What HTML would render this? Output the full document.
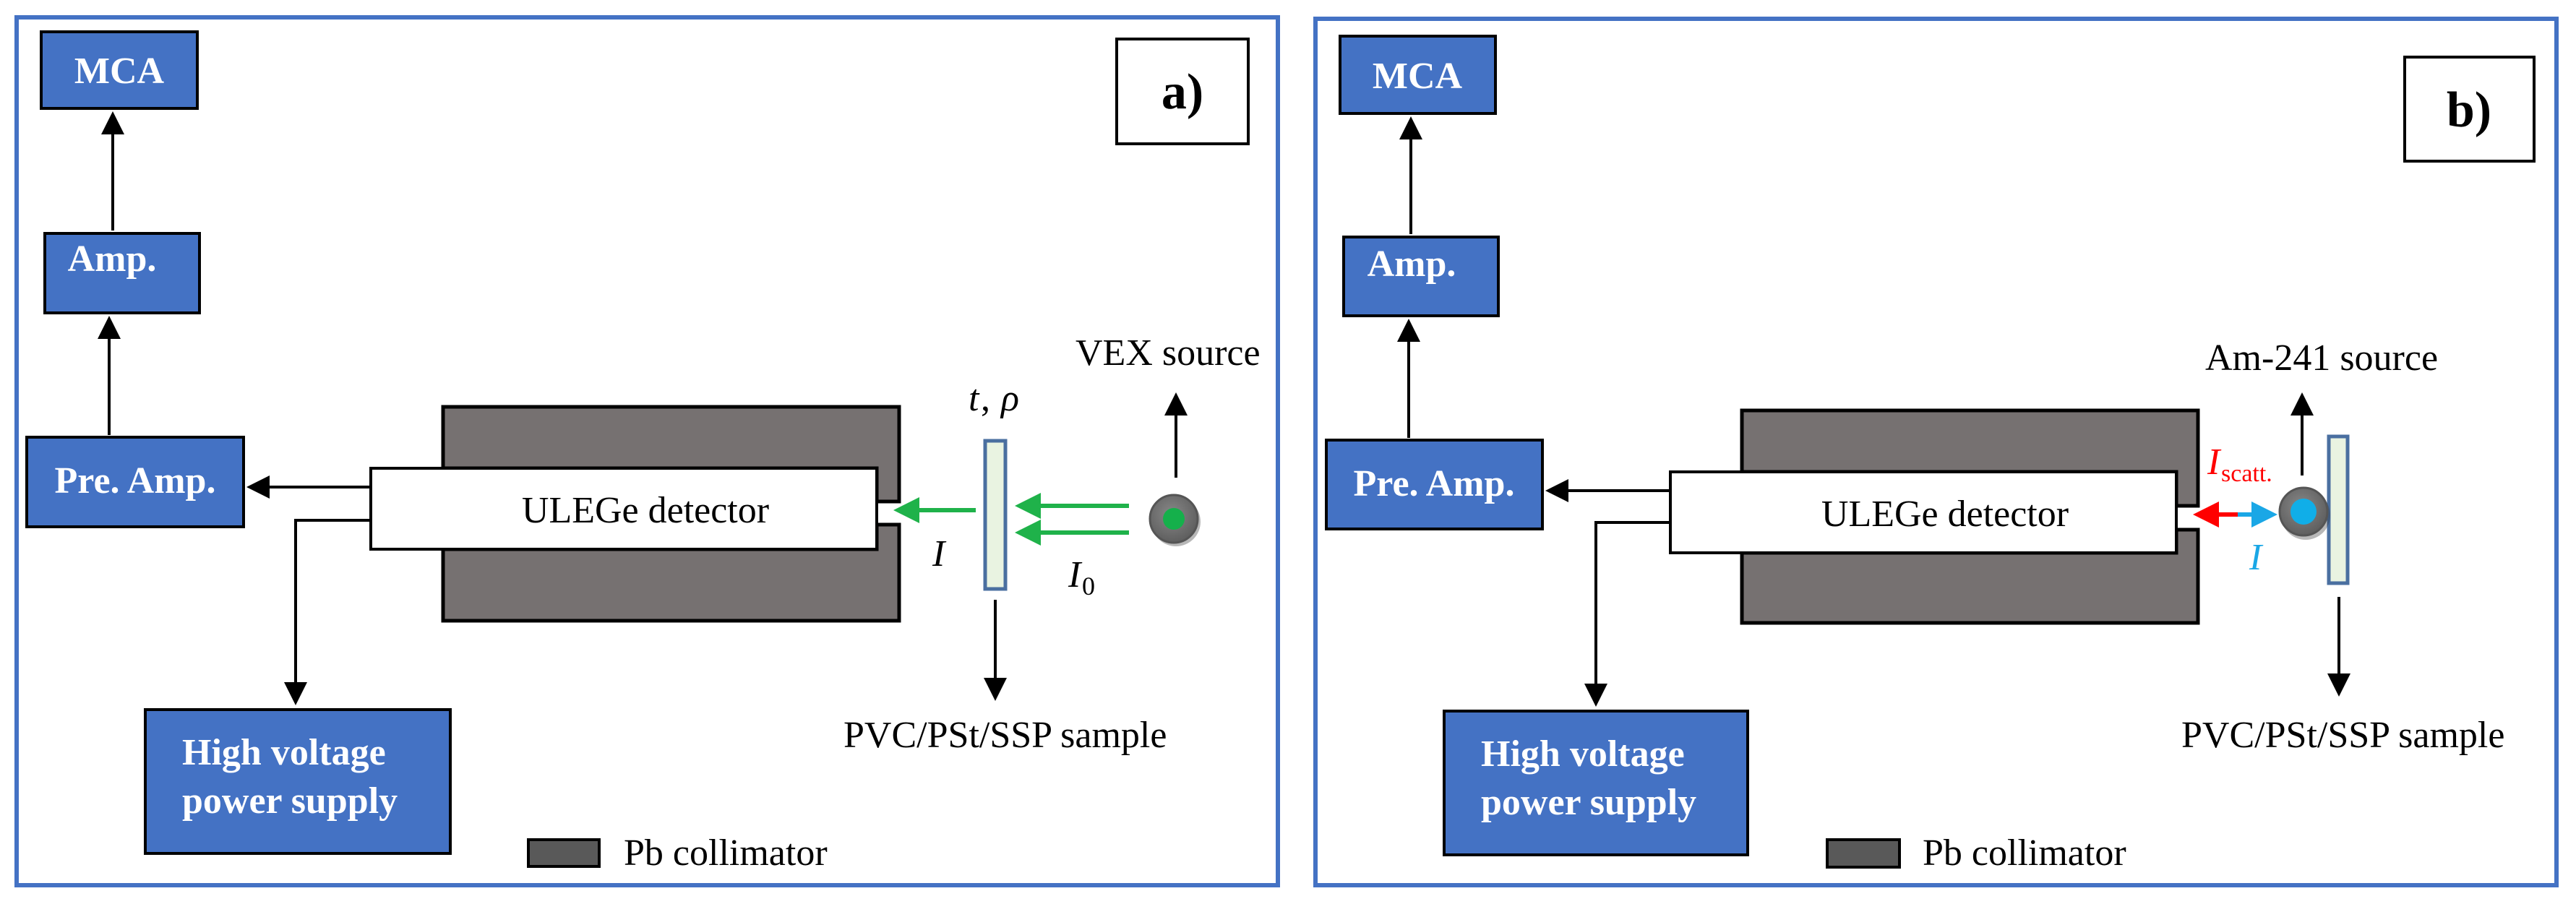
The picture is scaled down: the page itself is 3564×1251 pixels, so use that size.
<!DOCTYPE html>
<html><head><meta charset="utf-8"><style>
html,body{margin:0;padding:0;background:#fff;}
svg{display:block;}
.t{font-family:"Liberation Serif",serif;font-size:52px;fill:#000;}
.b{font-family:"Liberation Serif",serif;font-size:52px;font-weight:bold;fill:#fff;}
</style></head><body>
<svg width="3564" height="1251" viewBox="0 0 3564 1251" xmlns="http://www.w3.org/2000/svg">
<defs>
<marker id="ak" markerWidth="8" markerHeight="8" refX="7" refY="4" orient="auto" markerUnits="strokeWidth"><path d="M0,0 L8,4 L0,8 z" fill="#000"/></marker>
<marker id="ag" markerWidth="6" markerHeight="6" refX="5" refY="3" orient="auto" markerUnits="strokeWidth"><path d="M0,0 L6,3 L0,6 z" fill="#1fb24a"/></marker>
<marker id="ar" markerWidth="6" markerHeight="6" refX="5" refY="3" orient="auto" markerUnits="strokeWidth"><path d="M0,0 L6,3 L0,6 z" fill="#f00"/></marker>
<marker id="ac" markerWidth="6" markerHeight="6" refX="5" refY="3" orient="auto" markerUnits="strokeWidth"><path d="M0,0 L6,3 L0,6 z" fill="#1aa7e6"/></marker>
<radialGradient id="sg" cx="45%" cy="40%" r="60%"><stop offset="0" stop-color="#888"/><stop offset="1" stop-color="#5e5e5e"/></radialGradient>
</defs>

<!-- Panel a -->
<rect x="23" y="24" width="1745" height="1201" fill="none" stroke="#4472c4" stroke-width="6"/>
<rect x="57" y="44" width="216" height="106" fill="#4472c4" stroke="#000" stroke-width="4"/>
<text class="b" x="165" y="115" text-anchor="middle">MCA</text>
<rect x="62" y="323" width="214" height="110" fill="#4472c4" stroke="#000" stroke-width="4"/>
<text class="b" x="155" y="375" text-anchor="middle">Amp.</text>
<rect x="37" y="605" width="300" height="124" fill="#4472c4" stroke="#000" stroke-width="4"/>
<text class="b" x="187" y="682" text-anchor="middle">Pre. Amp.</text>
<rect x="201" y="982" width="422" height="199" fill="#4472c4" stroke="#000" stroke-width="4"/>
<text class="b" x="252" y="1058">High voltage</text>
<text class="b" x="252" y="1125">power supply</text>
<line x1="156" y1="319" x2="156" y2="158" stroke="#000" stroke-width="4" marker-end="url(#ak)"/>
<line x1="151" y1="602" x2="151" y2="441" stroke="#000" stroke-width="4" marker-end="url(#ak)"/>
<path d="M613,563 H1244 V694 H1213 V648 H613 Z" fill="#767171" stroke="#000" stroke-width="5"/>
<path d="M613,859 H1244 V726 H1213 V760 H613 Z" fill="#767171" stroke="#000" stroke-width="5"/>
<rect x="513" y="648" width="700" height="112" fill="#fff" stroke="#000" stroke-width="4"/>
<text class="t" x="893" y="723" text-anchor="middle">ULEGe detector</text>
<line x1="513" y1="674" x2="345" y2="674" stroke="#000" stroke-width="4" marker-end="url(#ak)"/>
<polyline points="513,720 409,720 409,972" fill="none" stroke="#000" stroke-width="4" marker-end="url(#ak)"/>
<rect x="1363" y="610" width="28" height="205" fill="#e9f3e1" stroke="#4a6fa0" stroke-width="5"/>
<text class="t" x="1340" y="568" font-style="italic">t</text><text class="t" x="1357" y="568">, </text><text class="t" x="1385" y="568" font-style="italic">ρ</text>
<line x1="1350" y1="706" x2="1242" y2="706" stroke="#1fb24a" stroke-width="6" marker-end="url(#ag)"/>
<line x1="1562" y1="700" x2="1410" y2="700" stroke="#1fb24a" stroke-width="6" marker-end="url(#ag)"/>
<line x1="1562" y1="737" x2="1410" y2="737" stroke="#1fb24a" stroke-width="6" marker-end="url(#ag)"/>
<circle cx="1627" cy="722" r="34" fill="#333" opacity="0.35"/>
<circle cx="1624" cy="718" r="33" fill="url(#sg)" stroke="#555" stroke-width="3"/>
<circle cx="1624" cy="718" r="15" fill="#15b04b"/>
<line x1="1627" y1="661" x2="1627" y2="547" stroke="#000" stroke-width="4" marker-end="url(#ak)"/>
<text class="t" x="1488" y="505">VEX source</text>
<text class="t" x="1290" y="783" font-style="italic">I</text>
<text class="t" x="1478" y="812" font-style="italic">I</text><text class="t" x="1497" y="823" style="font-size:36px">0</text>
<line x1="1377" y1="830" x2="1377" y2="966" stroke="#000" stroke-width="4" marker-end="url(#ak)"/>
<text class="t" x="1167" y="1034">PVC/PSt/SSP sample</text>
<rect x="731" y="1162" width="98" height="37" fill="#595959" stroke="#000" stroke-width="4"/>
<text class="t" x="863" y="1197">Pb collimator</text>
<rect x="1545" y="54" width="182" height="145" fill="#fff" stroke="#000" stroke-width="4"/>
<text x="1636" y="150" text-anchor="middle" style="font-family:'Liberation Serif',serif;font-weight:bold;font-size:70px">a)</text>

<!-- Panel b -->
<rect x="1820" y="26" width="1717" height="1199" fill="none" stroke="#4472c4" stroke-width="6"/>
<rect x="1854" y="50" width="215" height="107" fill="#4472c4" stroke="#000" stroke-width="4"/>
<text class="b" x="1961" y="122" text-anchor="middle">MCA</text>
<rect x="1859" y="328" width="214" height="109" fill="#4472c4" stroke="#000" stroke-width="4"/>
<text class="b" x="1953" y="382" text-anchor="middle">Amp.</text>
<rect x="1835" y="609" width="299" height="123" fill="#4472c4" stroke="#000" stroke-width="4"/>
<text class="b" x="1984" y="686" text-anchor="middle">Pre. Amp.</text>
<rect x="1998" y="984" width="420" height="199" fill="#4472c4" stroke="#000" stroke-width="4"/>
<text class="b" x="2049" y="1060">High voltage</text>
<text class="b" x="2049" y="1127">power supply</text>
<line x1="1952" y1="324" x2="1952" y2="165" stroke="#000" stroke-width="4" marker-end="url(#ak)"/>
<line x1="1949" y1="606" x2="1949" y2="445" stroke="#000" stroke-width="4" marker-end="url(#ak)"/>
<path d="M2410,568 H3041 V700 H3011 V653 H2410 Z" fill="#767171" stroke="#000" stroke-width="5"/>
<path d="M2410,862 H3041 V733 H3011 V765 H2410 Z" fill="#767171" stroke="#000" stroke-width="5"/>
<rect x="2311" y="653" width="700" height="112" fill="#fff" stroke="#000" stroke-width="4"/>
<text class="t" x="2691" y="728" text-anchor="middle">ULEGe detector</text>
<line x1="2311" y1="679" x2="2142" y2="679" stroke="#000" stroke-width="4" marker-end="url(#ak)"/>
<polyline points="2311,723 2208,723 2208,974" fill="none" stroke="#000" stroke-width="4" marker-end="url(#ak)"/>
<rect x="3222" y="604" width="26" height="203" fill="#e9f3e1" stroke="#4a6fa0" stroke-width="5"/>
<line x1="3185" y1="658" x2="3185" y2="547" stroke="#000" stroke-width="4" marker-end="url(#ak)"/>
<text class="t" x="3051" y="512">Am-241 source</text>
<line x1="3098" y1="712" x2="3040" y2="712" stroke="#f00" stroke-width="6" marker-end="url(#ar)"/>
<line x1="3096" y1="712" x2="3145" y2="712" stroke="#1aa7e6" stroke-width="6" marker-end="url(#ac)"/>
<circle cx="3190" cy="713" r="34" fill="#333" opacity="0.35"/>
<circle cx="3187" cy="708" r="33" fill="url(#sg)" stroke="#555" stroke-width="3"/>
<circle cx="3187" cy="708" r="18" fill="#10aee8"/>
<text class="t" x="3054" y="656" font-style="italic" style="fill:#f00">I</text><text class="t" x="3073" y="666" style="fill:#f00;font-size:34px">scatt.</text>
<text class="t" x="3112" y="788" font-style="italic" style="fill:#1aa7e6">I</text>
<line x1="3236" y1="826" x2="3236" y2="960" stroke="#000" stroke-width="4" marker-end="url(#ak)"/>
<text class="t" x="3018" y="1034">PVC/PSt/SSP sample</text>
<rect x="2528" y="1162" width="100" height="38" fill="#595959" stroke="#000" stroke-width="4"/>
<text class="t" x="2660" y="1197">Pb collimator</text>
<rect x="3327" y="79" width="179" height="144" fill="#fff" stroke="#000" stroke-width="4"/>
<text x="3416" y="175" text-anchor="middle" style="font-family:'Liberation Serif',serif;font-weight:bold;font-size:70px">b)</text>
</svg>
</body></html>
